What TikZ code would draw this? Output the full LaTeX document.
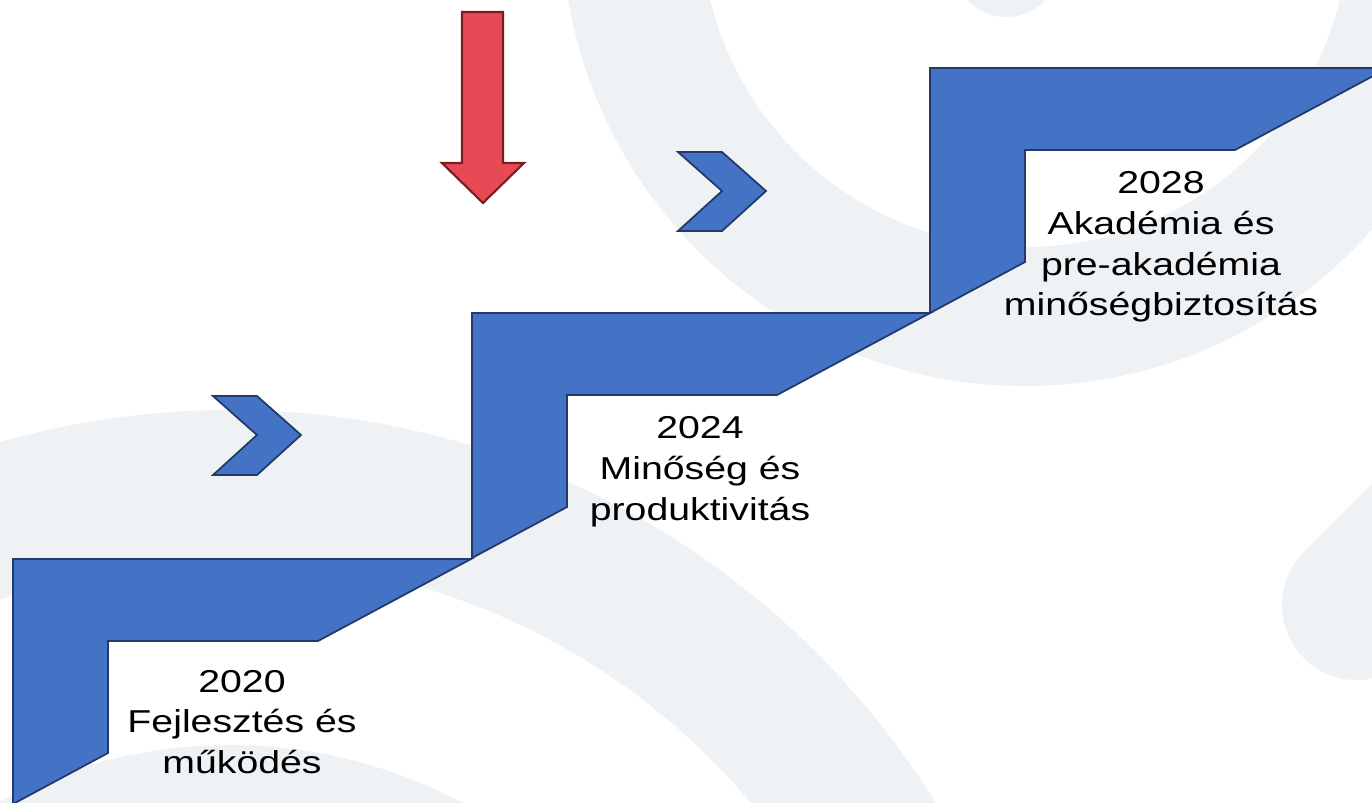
\documentclass[tikz,border=0pt]{standalone}
\usepackage{fontspec}
\setmainfont{Liberation Sans}
\newfontfamily\stepfont[FakeStretch=1.24]{Liberation Sans}
\usetikzlibrary{arrows.meta, positioning}
\definecolor{stepblue}{HTML}{4472C4}
\definecolor{stepline}{HTML}{22396A}
\definecolor{arrowred}{HTML}{E84A55}
\definecolor{arrowline}{HTML}{7A1C22}
\definecolor{bggray}{HTML}{EFF2F5}

\begin{document}
\begin{tikzpicture}[x=0.01cm, y=-0.01cm,
	stepshape/.style={fill=stepblue, draw=stepline, line width=0.5pt},
	arrowshape/.style={fill=arrowred, draw=arrowline, line width=0.6pt},
	steptext/.style={font=\stepfont\fontsize{9}{11.6}\selectfont, align=center, inner sep=0pt}]
	
	\useasboundingbox (0,0) rectangle (1372,802);
	\clip (0,0) rectangle (1372,802);
	\fill[white] (0,0) rectangle (1372,802);
	
	% háttér (halvány ívek)
	\fill[bggray, even odd rule] (1025,-77) circle (463) (1025,-77) circle (324);
	\fill[bggray] (1006,-36) circle (53);
	\fill[bggray, even odd rule] (230,1240) circle (830) (230,1240) circle (680);
	\fill[bggray] (230,1240) circle (495);
	\draw[bggray, line width=1.5cm, line cap=round] (1357,605) -- (1520,442);
	
	% lépcsők
	\foreach \bx/\by in {13/804, 472/558, 930/313}
		\draw[stepshape] (\bx,\by-245) -- ++(458,0) -- ++(-153,82) -- (\bx+95,\by-163) -- (\bx+95,\by-51) -- (\bx,\by) -- cycle;
	
	% nyilak
	\foreach \cx/\cy in {213/396, 678/152}
		\draw[stepshape] (\cx,\cy) -- ++(44,0) -- ++(44,39) -- ++(-44,40) -- ++(-44,0) -- ++(44,-40) -- cycle;
	\draw[arrowshape] (462,12) -- (503,12) -- (503,163) -- (524,163) -- (483,203) -- (442,163) -- (462,163) -- cycle;
	
	% szövegek
	\node[steptext] (y2020) at (242,722) {2020\\Fejlesztés és\\működés};
	\node[steptext] (y2024) at (700,472) {2024\\Minőség és\\produktivitás};
	\node[steptext] (y2028) at (1161,247) {2028\\Akadémia és\\pre-akadémia\\minőségbiztosítás};
	
\end{tikzpicture}
\end{document}
